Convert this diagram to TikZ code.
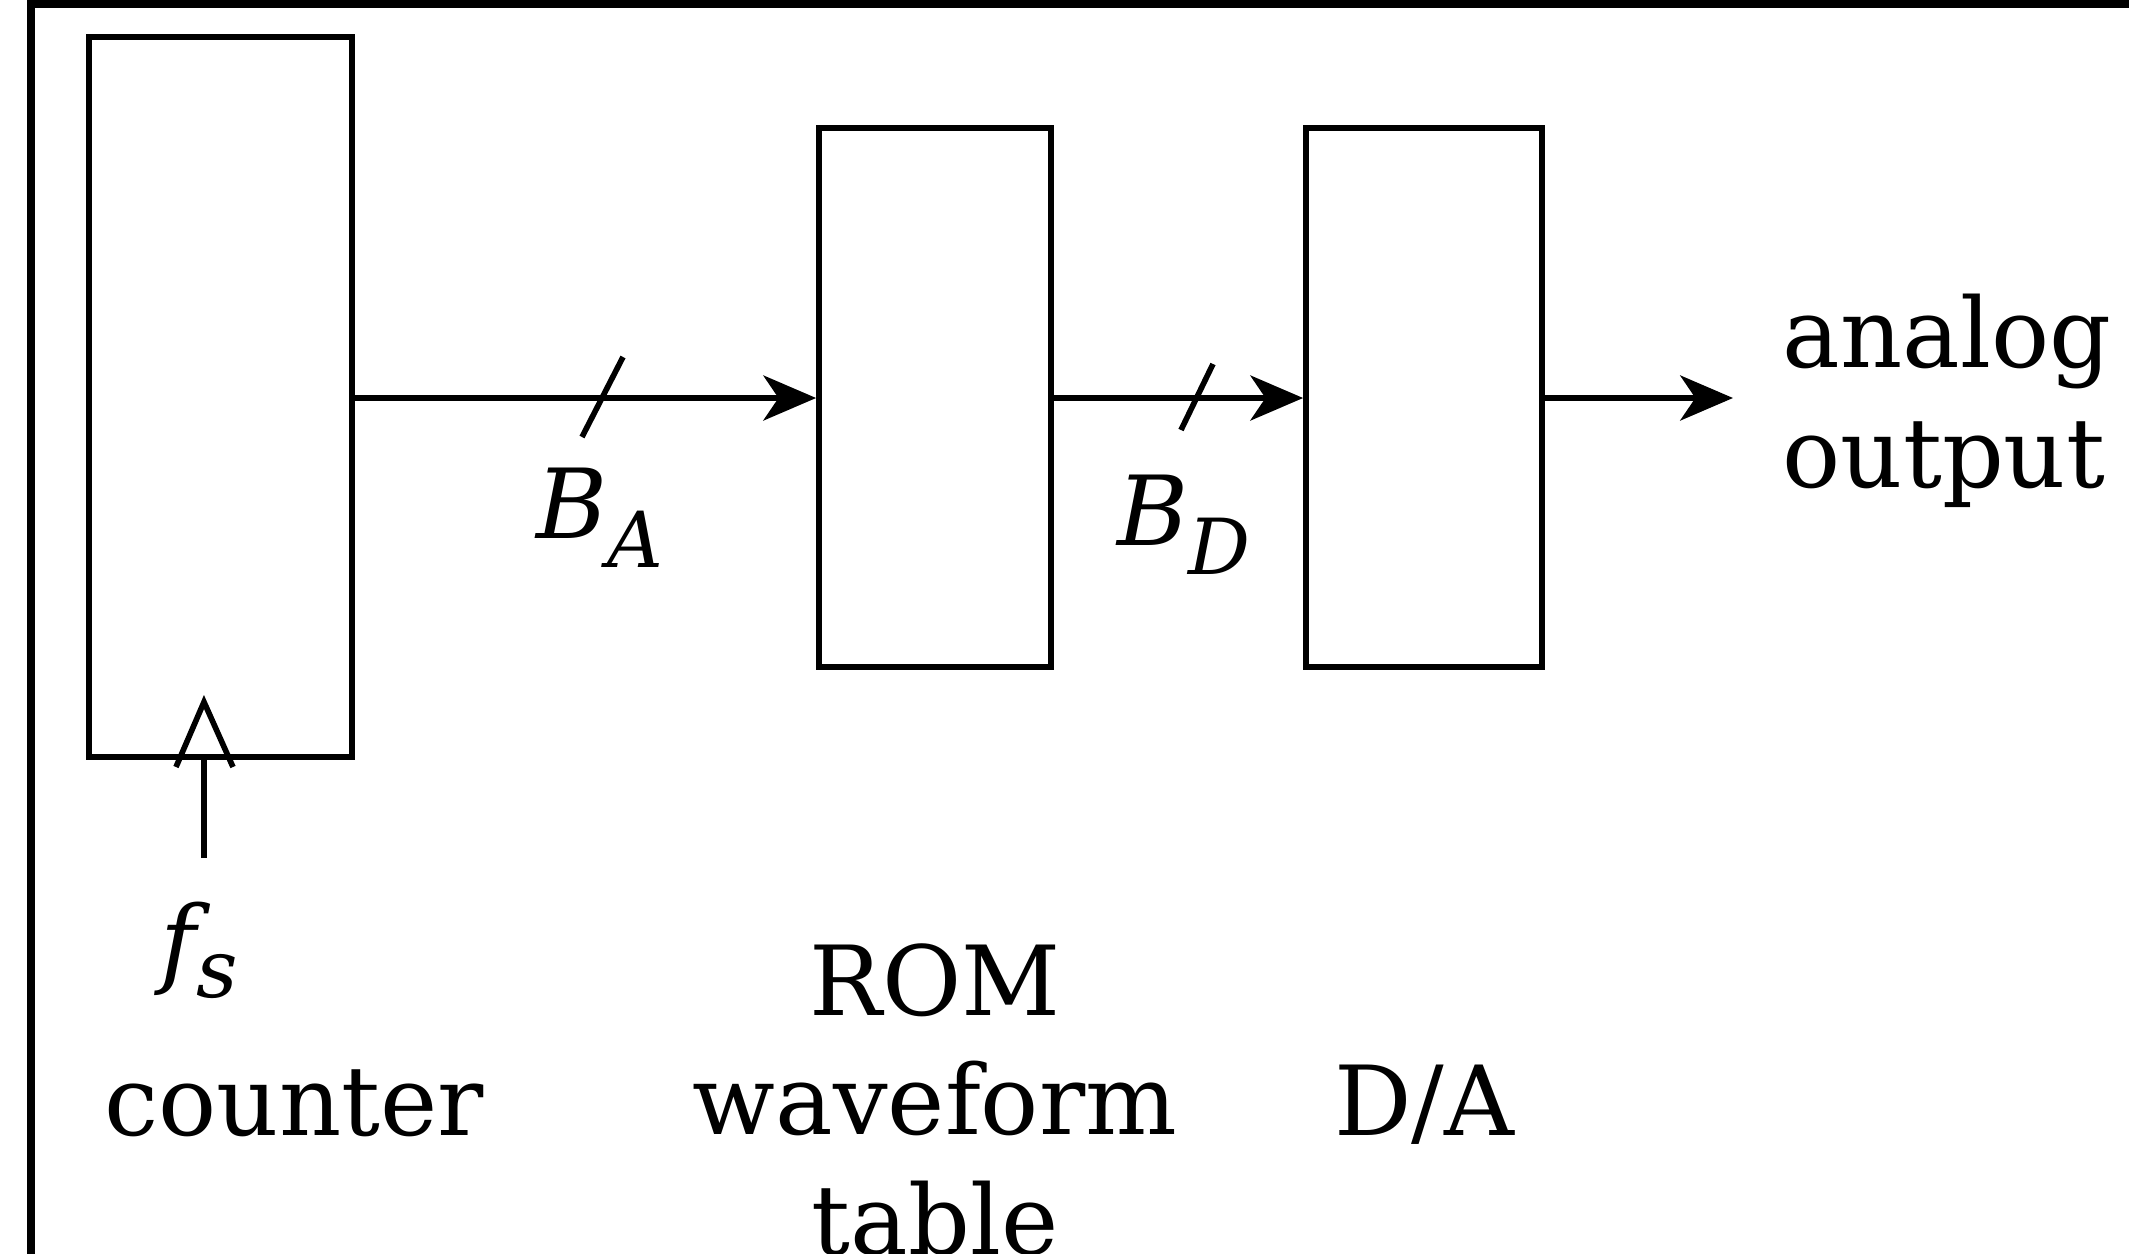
\documentclass[tikz,border=0pt]{standalone}
\usepackage{fontspec}
\setmainfont{DejaVu Serif}
\usetikzlibrary{arrows.meta}
\newcommand{\subvar}[2]{{\itshape #1}\raisebox{-8.3pt}{\fontsize{22}{22}\selectfont\itshape #2}}
\begin{document}
\begin{tikzpicture}[x=0.01cm,y=-0.01cm,
  blk/.style={draw,line width=1.6pt,rectangle,inner sep=0pt},
  lbl/.style={inner sep=0pt,font=\fontsize{27.5}{33.9}\selectfont},
  conn/.style={line width=1.6pt,-{Stealth[length=15pt,width=12.8pt,inset=4.3pt]}},
  thin/.style={line width=1.6pt}]
\useasboundingbox (0,0) rectangle (2129,1254);
% outer frame (only left and top visible)
\draw[line width=2.3pt] (31,1300) -- (31,3.5) -- (2200,3.5);
% blocks
\node[blk,minimum width=2.63cm,minimum height=7.2cm] (counter) at (220.5,397) {};
\node[blk,minimum width=2.32cm,minimum height=5.39cm] (rom) at (935,397.5) {};
\node[blk,minimum width=2.36cm,minimum height=5.39cm] (da) at (1424,397.5) {};
% output label
\node[lbl,anchor=base west,align=left] (out) at (1782,487) {analog\\output};
\coordinate (outtip) at (1733,398);
% connectors
\draw[conn] (counter.east |- 0,398) -- (rom.west |- 0,398);
\draw[conn] (rom.east |- 0,398) -- (da.west |- 0,398);
\draw[conn] (da.east |- 0,398) -- (outtip);
% bus slashes
\draw[thin] (582,437) -- (623,357);
\draw[thin] (1181,430) -- (1213,364);
\node[lbl,anchor=base west] (ba) at (536,538) {\subvar{B}{A}};
\node[lbl,anchor=base west] (bd) at (1117,545) {\subvar{B}{D}};
% clock input
\coordinate (clk) at (204,858);
\draw[thin] (clk) -- (counter.south -| clk);
\draw[thin,line join=miter] (176,767) -- (204,702) -- (233,767);
\node[lbl,anchor=base west] (fs) at (160,975) {{\itshape f}\raisebox{-6.5pt}{\fontsize{23}{23}\selectfont\itshape s}};
% block labels
\node[lbl,anchor=base] (lcounter) at (294,1135) {counter};
\node[lbl,anchor=base,align=center] (lrom) at (935,1254) {ROM\\waveform\\table};
\node[lbl,anchor=base] (lda) at (1424,1135) {D/A};
\end{tikzpicture}
\end{document}
